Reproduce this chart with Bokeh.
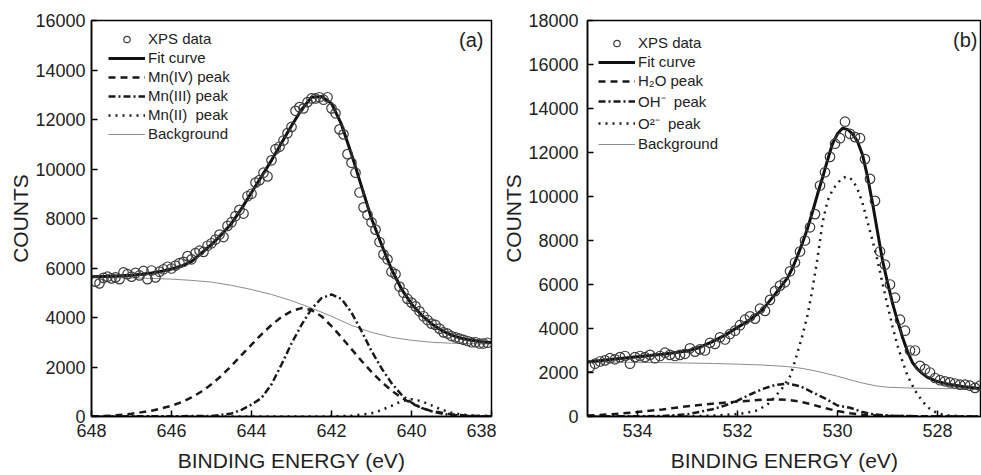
from bokeh.plotting import figure
from bokeh.layouts import row
from bokeh.models import Legend, LegendItem, Label, FixedTicker, Range1d
from bokeh.embed import file_html
from bokeh.resources import INLINE

FONT = "Liberation Sans"

# ---------------- Panel (a): Mn 2p ----------------
a_xticks = [648, 646, 644, 642, 640, 638]
a_yticks = [0, 2000, 4000, 6000, 8000, 10000, 12000, 14000, 16000]

a_data_e = [647.9, 647.8, 647.7, 647.6, 647.5, 647.4, 647.3, 647.2, 647.1, 647.0,
            646.9, 646.8, 646.7, 646.6, 646.5, 646.4, 646.3, 646.2, 646.1, 646.0,
            645.9, 645.8, 645.7, 645.6, 645.5, 645.4, 645.3, 645.2, 645.1, 645.0,
            644.9, 644.8, 644.7, 644.6, 644.5, 644.4, 644.3, 644.2, 644.1, 644.0,
            643.9, 643.8, 643.7, 643.6, 643.5, 643.4, 643.3, 643.2, 643.1, 643.0,
            642.9, 642.8, 642.7, 642.6, 642.5, 642.4, 642.3, 642.2, 642.1, 642.0,
            641.9, 641.8, 641.7, 641.6, 641.5, 641.4, 641.3, 641.2, 641.1, 641.0,
            640.9, 640.8, 640.7, 640.6, 640.5, 640.4, 640.3, 640.2, 640.1, 640.0,
            639.9, 639.8, 639.7, 639.6, 639.5, 639.4, 639.3, 639.2, 639.1, 639.0,
            638.9, 638.8, 638.7, 638.6, 638.5, 638.4, 638.3, 638.2, 638.1]
a_data_c = [5450, 5380, 5600, 5650, 5580, 5620, 5550, 5820, 5750, 5650,
            5800, 5700, 5880, 5550, 5900, 5620, 5850, 5950, 6050, 5980,
            6100, 6200, 6250, 6480, 6350, 6600, 6700, 6650, 6900, 7000,
            7150, 7350, 7250, 7700, 7850, 8100, 8350, 8200, 8900, 9000,
            9450, 9550, 9850, 9700, 10350, 10800, 10900, 11150, 11450, 11700,
            12350, 12500, 12450, 12700, 12850, 12850, 12900, 12800, 12900, 12450,
            12250, 11600, 11400, 10600, 10250, 9850, 9050, 8450, 8150, 7850,
            7550, 7050, 6550, 6350, 5850, 5750, 5250, 5000, 4750, 4600,
            4450, 4250, 4050, 3900, 3750, 3700, 3550, 3400, 3350, 3250,
            3200, 3150, 3100, 3050, 3000, 3000, 2950, 2950, 2980]

a_fit_e = [648, 647.75, 647.5, 647.25, 647, 646.75, 646.5, 646.25, 646, 645.75,
           645.5, 645.25, 645, 644.75, 644.5, 644.25, 644, 643.75, 643.5, 643.25,
           643, 642.75, 642.5, 642.25, 642, 641.75, 641.5, 641.25, 641, 640.75,
           640.5, 640.25, 640, 639.75, 639.5, 639.25, 639, 638.75, 638.5, 638.25, 638]
a_fit_c = [5650, 5660, 5670, 5690, 5710, 5750, 5800, 5870, 5960, 6080,
           6260, 6600, 6950, 7350, 7800, 8400, 9050, 9700, 10350, 11050,
           11750, 12400, 12900, 12930, 12650, 11800, 10600, 9300, 8000, 6950,
           5950, 5150, 4550, 4100, 3750, 3480, 3290, 3160, 3080, 3020, 2990]

a_bg_e = [648, 647.5, 647, 646.5, 646, 645.5, 645, 644.5, 644, 643.5, 643,
          642.5, 642, 641.5, 641, 640.5, 640, 639.5, 639, 638.5, 638]
a_bg_c = [5620, 5610, 5600, 5580, 5550, 5500, 5430, 5300, 5130, 4930, 4680,
          4380, 4050, 3680, 3400, 3200, 3080, 3000, 2960, 2940, 2930]

a_mn4_e = [648, 647.5, 647, 646.5, 646, 645.75, 645.5, 645.25, 645, 644.75,
           644.5, 644.25, 644, 643.75, 643.5, 643.25, 643, 642.75, 642.5, 642.25,
           642, 641.75, 641.5, 641.25, 641, 640.75, 640.5, 640.25, 640, 639.75,
           639.5, 639, 638.5, 638]
a_mn4_c = [0, 30, 110, 230, 430, 580, 770, 1010, 1300, 1650,
           2050, 2480, 2900, 3320, 3700, 4020, 4260, 4380, 4300, 4050,
           3650, 3200, 2720, 2250, 1800, 1400, 1050, 760, 530, 350,
           220, 90, 30, 10]

a_mn3_e = [648, 645, 644.5, 644.25, 644, 643.75, 643.5, 643.25, 643, 642.75,
           642.5, 642.25, 642, 641.75, 641.5, 641.25, 641, 640.75, 640.5, 640.25,
           640, 639.75, 639.5, 639.25, 639, 638.5, 638]
a_mn3_c = [0, 20, 120, 270, 480, 750, 1300, 2100, 2950, 3700,
           4350, 4780, 4930, 4750, 4200, 3450, 2650, 1950, 1350, 880,
           560, 350, 210, 120, 60, 15, 0]

a_mn2_e = [648, 642, 641.5, 641, 640.75, 640.5, 640.25, 640, 639.75, 639.5,
           639.25, 639, 638.75, 638.5, 638]
a_mn2_c = [0, 0, 30, 130, 260, 430, 620, 700, 620, 450,
           280, 150, 80, 40, 10]

# ---------------- Panel (b): O 1s ----------------
b_xticks = [534, 532, 530, 528]
b_yticks = [0, 2000, 4000, 6000, 8000, 10000, 12000, 14000, 16000, 18000]

b_data_e = [534.95, 534.85, 534.75, 534.65, 534.55, 534.45, 534.35, 534.25, 534.15, 534.05,
            533.95, 533.85, 533.75, 533.65, 533.55, 533.45, 533.35, 533.25, 533.15, 533.05,
            532.95, 532.85, 532.75, 532.65, 532.55, 532.45, 532.35, 532.25, 532.15, 532.05,
            531.95, 531.85, 531.75, 531.65, 531.55, 531.45, 531.35, 531.25, 531.15, 531.05,
            530.95, 530.85, 530.75, 530.65, 530.55, 530.45, 530.35, 530.25, 530.15, 530.05,
            529.95, 529.85, 529.75, 529.65, 529.55, 529.45, 529.35, 529.25, 529.15, 529.05,
            528.95, 528.85, 528.75, 528.65, 528.55, 528.45, 528.35, 528.25, 528.15, 528.05,
            527.95, 527.85, 527.75, 527.65, 527.55, 527.45, 527.35, 527.25, 527.15]
b_data_c = [2250, 2400, 2500, 2550, 2650, 2600, 2700, 2750, 2400, 2700,
            2750, 2700, 2800, 2650, 2750, 2900, 2800, 2750, 2800, 2850,
            3100, 2950, 3050, 3000, 3350, 3300, 3600, 3500, 3750, 3900,
            4150, 4400, 4550, 4450, 4900, 4800, 5300, 5700, 5950, 6100,
            6600, 7000, 7500, 8000, 8600, 9200, 10500, 11100, 11800, 12400,
            12650, 13400, 12850, 12700, 12650, 11700, 10800, 9800, 7500, 6900,
            6000, 5400, 4400, 3900, 3000, 3000, 2300, 2150, 2000, 1750,
            1650, 1600, 1550, 1500, 1450, 1450, 1400, 1300, 1400]

b_fit_e = [535, 534.5, 534, 533.5, 533, 532.75, 532.5, 532.25, 532, 531.75,
           531.5, 531.25, 531, 530.9, 530.8, 530.7, 530.6, 530.5, 530.4, 530.3,
           530.2, 530.1, 530, 529.9, 529.8, 529.7, 529.6, 529.5, 529.4, 529.3,
           529.2, 529.1, 529, 528.9, 528.8, 528.7, 528.6, 528.5, 528.4, 528.3,
           528.2, 528, 527.75, 527.5, 527.25, 527]
b_fit_c = [2480, 2600, 2720, 2830, 2980, 3150, 3400, 3700, 4050, 4400,
           4850, 5550, 6300, 6750, 7300, 7900, 8550, 9300, 10100, 10850,
           11650, 12400, 12850, 13100, 13050, 12850, 12500, 11900, 10900, 9700,
           8400, 7100, 6100, 5150, 4350, 3600, 2950, 2450, 2150, 1950,
           1780, 1590, 1450, 1360, 1300, 1270]

b_bg_e = [535, 534.5, 534, 533.5, 533, 532.5, 532, 531.5, 531, 530.75,
          530.5, 530.25, 530, 529.75, 529.5, 529.25, 529, 528.5, 528, 527]
b_bg_c = [2480, 2470, 2460, 2450, 2430, 2410, 2380, 2340, 2270, 2200,
          2100, 1970, 1830, 1670, 1520, 1400, 1330, 1290, 1270, 1260]

b_h2o_e = [535, 534.5, 534, 533.5, 533, 532.5, 532, 531.5, 531.2, 531,
           530.75, 530.5, 530.25, 530, 529.75, 529.5, 529, 528, 527]
b_h2o_c = [40, 100, 200, 320, 470, 580, 680, 760, 780, 760,
           680, 540, 380, 250, 150, 80, 30, 5, 0]

b_oh_e = [535, 533.5, 533, 532.5, 532.25, 532, 531.75, 531.5, 531.25, 531,
          530.75, 530.5, 530.25, 530, 529.75, 529.5, 529.25, 529, 528.5, 527]
b_oh_c = [0, 20, 100, 330, 500, 720, 1000, 1250, 1430, 1500,
          1380, 1100, 820, 500, 400, 200, 90, 40, 10, 0]

b_o2_e = [535, 533, 532.5, 532, 531.8, 531.6, 531.4, 531.28, 531.1, 530.94,
          530.8, 530.7, 530.6, 530.5, 530.4, 530.3, 530.2, 530.1, 530, 529.9,
          529.8, 529.7, 529.6, 529.5, 529.4, 529.3, 529.2, 529.1, 529, 528.9,
          528.8, 528.7, 528.6, 528.5, 528.4, 528.3, 528.2, 528, 527.8, 527.5, 527]
b_o2_c = [0, 10, 40, 110, 180, 280, 550, 820, 1300, 1860,
          2900, 3700, 4600, 5800, 7200, 8800, 9800, 10300, 10600, 10850,
          10900, 10750, 10350, 9700, 8850, 8000, 7100, 6050, 5050, 4100,
          3230, 2500, 1860, 1400, 1000, 700, 420, 140, 50, 10, 0]

TXT = "#222222"


def style(p, xticks, yticks, ylab_standoff):
    p.xgrid.visible = False
    p.ygrid.visible = False
    p.outline_line_color = "black"
    p.outline_line_width = 1.5
    p.xaxis.ticker = FixedTicker(ticks=xticks)
    p.yaxis.ticker = FixedTicker(ticks=yticks)
    for ax in (p.xaxis, p.yaxis):
        ax.axis_line_width = 1.5
        ax.axis_line_color = "black"
        ax.major_tick_in = 6
        ax.major_tick_out = 0
        ax.major_tick_line_width = 1.5
        ax.minor_tick_in = 0
        ax.minor_tick_out = 0
        ax.major_label_text_font = FONT
        ax.major_label_text_font_size = "18px"
        ax.major_label_text_color = TXT
        ax.axis_label_text_font = FONT
        ax.axis_label_text_font_size = "21px"
        ax.axis_label_text_font_style = "normal"
        ax.axis_label_text_color = TXT
    p.xaxis.major_label_standoff = 7
    p.yaxis.major_label_standoff = ylab_standoff
    p.xaxis.axis_label_standoff = 9
    p.yaxis.axis_label_standoff = 0
    p.xaxis.axis_label = "BINDING ENERGY (eV)"
    p.yaxis.axis_label = "COUNTS"


def make_legend(items, loc, rowspace):
    return Legend(items=items, location=loc, border_line_color=None,
                  background_fill_alpha=0, padding=0, margin=0,
                  spacing=rowspace, glyph_width=37, glyph_height=16,
                  label_height=16, label_standoff=3,
                  label_text_font=FONT, label_text_font_size="15px",
                  label_text_color=TXT)


# Panel (a)
pa = figure(width=496, height=475, output_backend="svg", toolbar_location=None,
            x_range=Range1d(648, 638), y_range=Range1d(0, 16000),
            min_border_left=91, min_border_right=5, min_border_top=20,
            min_border_bottom=59)
style(pa, a_xticks, a_yticks, 6)
ra_bg = pa.line(a_bg_e, a_bg_c, line_color="#8c8c8c", line_width=1)
ra_mn4 = pa.line(a_mn4_e, a_mn4_c, line_color="#1a1a1a", line_width=2.5, line_dash="7 5")
ra_mn3 = pa.line(a_mn3_e, a_mn3_c, line_color="#1a1a1a", line_width=2.5, line_dash="7 3 2 3")
ra_mn2 = pa.line(a_mn2_e, a_mn2_c, line_color="#1a1a1a", line_width=2.5, line_dash="2 5")
ra_fit = pa.line(a_fit_e, a_fit_c, line_color="#111111", line_width=3)
ra_pts = pa.scatter(a_data_e, a_data_c, marker="circle", size=9.5, fill_color=None,
                    line_color="#3c3c3c", line_width=1.2)
leg_a = make_legend([
    LegendItem(label="XPS data", renderers=[ra_pts]),
    LegendItem(label="Fit curve", renderers=[ra_fit]),
    LegendItem(label="Mn(IV) peak", renderers=[ra_mn4]),
    LegendItem(label="Mn(III) peak", renderers=[ra_mn3]),
    LegendItem(label="Mn(II)  peak", renderers=[ra_mn2]),
    LegendItem(label="Background", renderers=[ra_bg]),
], (17, 274), 2)
pa.add_layout(leg_a)
pa.add_layout(Label(x=638.2, y=15230, text="(a)", text_align="right",
                    text_baseline="middle", text_font=FONT, text_font_size="20px",
                    text_color=TXT))

# Panel (b)
pb = figure(width=485, height=475, output_backend="svg", toolbar_location=None,
            x_range=Range1d(535, 527.12), y_range=Range1d(0, 18000),
            min_border_left=91, min_border_right=0, min_border_top=20,
            min_border_bottom=59)
style(pb, b_xticks, b_yticks, 9)
rb_bg = pb.line(b_bg_e, b_bg_c, line_color="#8c8c8c", line_width=1)
rb_h2o = pb.line(b_h2o_e, b_h2o_c, line_color="#1a1a1a", line_width=2.5, line_dash="7 5")
rb_oh = pb.line(b_oh_e, b_oh_c, line_color="#1a1a1a", line_width=2.5, line_dash="7 3 2 3")
rb_o2 = pb.line(b_o2_e, b_o2_c, line_color="#1a1a1a", line_width=2.5, line_dash="2 5")
rb_fit = pb.line(b_fit_e, b_fit_c, line_color="#111111", line_width=3)
rb_pts = pb.scatter(b_data_e, b_data_c, marker="circle", size=9.5, fill_color=None,
                    line_color="#3c3c3c", line_width=1.2)
leg_b = make_legend([
    LegendItem(label="XPS data", renderers=[rb_pts]),
    LegendItem(label="Fit curve", renderers=[rb_fit]),
    LegendItem(label="H\u2082O peak", renderers=[rb_h2o]),
    LegendItem(label="OH\u207b  peak", renderers=[rb_oh]),
    LegendItem(label="O\u00b2\u207b  peak", renderers=[rb_o2]),
    LegendItem(label="Background", renderers=[rb_bg]),
], (11, 264), 2)
pb.add_layout(leg_b)
pb.add_layout(Label(x=527.2, y=17100, text="(b)", text_align="right",
                    text_baseline="middle", text_font=FONT, text_font_size="20px",
                    text_color=TXT))

layout = row(pa, pb)
open("out.html", "w").write(file_html(layout, INLINE))
